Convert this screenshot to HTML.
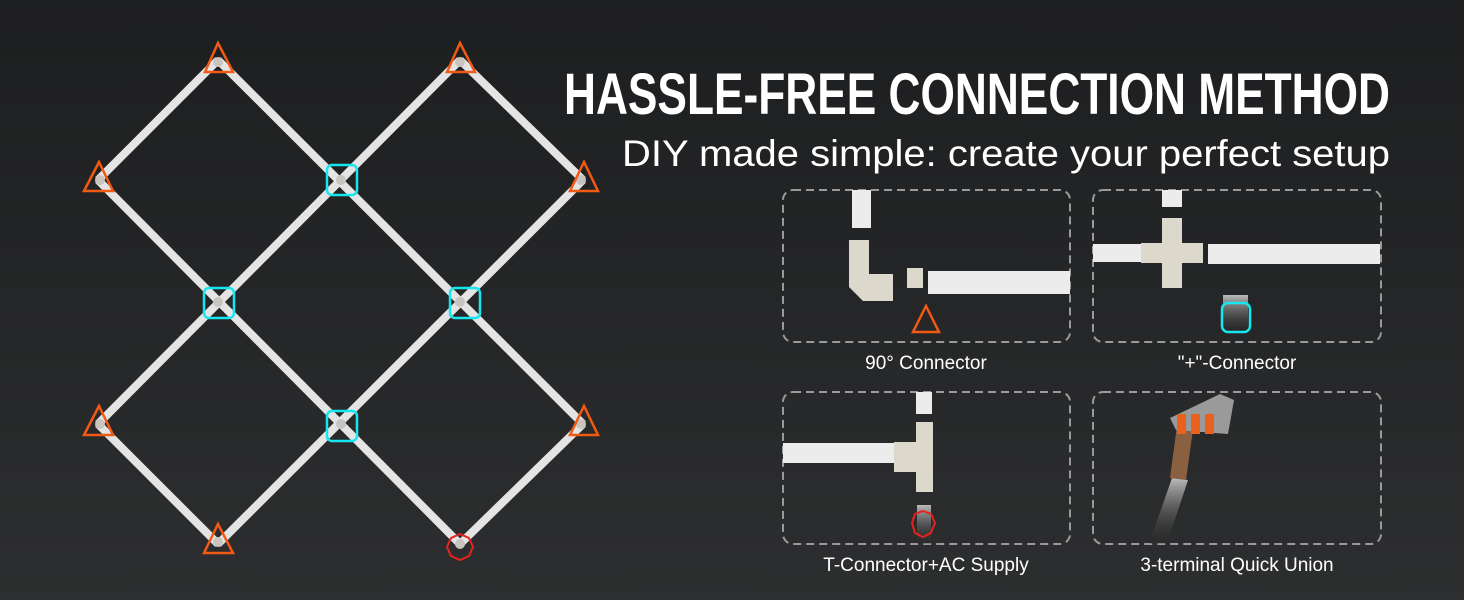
<!DOCTYPE html>
<html><head><meta charset="utf-8"><style>
html,body{margin:0;padding:0;background:#232425;}
svg{display:block}
</style></head><body>
<svg width="1464" height="600" viewBox="0 0 1464 600" xmlns="http://www.w3.org/2000/svg">
<defs>
<linearGradient id="bg" x1="0" y1="0" x2="0" y2="1">
<stop offset="0" stop-color="#1d1e1f"/><stop offset="1" stop-color="#2d2e2f"/>
</linearGradient>
<linearGradient id="fade" x1="0" y1="0" x2="0" y2="1">
<stop offset="0" stop-color="#bbb"/><stop offset="1" stop-color="#222" stop-opacity="0.2"/>
</linearGradient>
</defs>
<rect width="1464" height="600" fill="url(#bg)"/>
<g stroke="#e4e4e4" stroke-width="8" stroke-linecap="butt">
<line x1="218" y1="60" x2="583" y2="424"/>
<line x1="98" y1="180" x2="460" y2="544"/>
<line x1="460" y1="60" x2="583" y2="180"/>
<line x1="98" y1="424" x2="218" y2="544"/>
<line x1="98" y1="180" x2="218" y2="60"/>
<line x1="98" y1="424" x2="460" y2="60"/>
<line x1="218" y1="544" x2="583" y2="180"/>
<line x1="460" y1="544" x2="583" y2="424"/>
</g>
<g fill="#c8c4c0">
<circle cx="218" cy="62" r="5"/><circle cx="460" cy="62" r="5"/><circle cx="100" cy="180" r="5"/><circle cx="341" cy="180" r="5"/><circle cx="581" cy="180" r="5"/><circle cx="218" cy="302" r="5"/><circle cx="460" cy="302" r="5"/><circle cx="100" cy="424" r="5"/><circle cx="341" cy="424" r="5"/><circle cx="581" cy="424" r="5"/><circle cx="218" cy="542" r="5"/><circle cx="460" cy="544" r="5"/>
</g>
<g fill="none" stroke="#f25a14" stroke-width="2.5">
<polygon points="218,43 205,72 233,72"/>
<polygon points="460,43 447,72 475,72"/>
<polygon points="99,162 84,191 113,191"/>
<polygon points="584,162 570,191 598,191"/>
<polygon points="99,406 84,435 113,435"/>
<polygon points="584,406 570,435 598,435"/>
<polygon points="218,524 204,553 233,553"/>
<polygon points="926,306 913,332 939,332"/>
</g>
<g fill="none" stroke="#16e6f0" stroke-width="2.5">
<rect x="327" y="165" width="30" height="30" rx="5"/>
<rect x="204" y="288" width="30" height="30" rx="5"/>
<rect x="450" y="288" width="30" height="30" rx="5"/>
<rect x="327" y="411" width="30" height="30" rx="5"/>
</g>
<polygon points="460,534 469,538 473,547 469,556 460,560 451,556 447,547 451,538" fill="none" stroke="#e8221c" stroke-width="2"/>
<text x="1390" y="114" text-anchor="end" font-family="'Liberation Sans Narrow','Liberation Sans',sans-serif" font-weight="bold" font-size="58" fill="#fff" textLength="826" lengthAdjust="spacingAndGlyphs">HASSLE-FREE CONNECTION METHOD</text>
<text x="1390" y="166" text-anchor="end" font-family="'Liberation Sans',sans-serif" font-size="37" fill="#fff" textLength="768" lengthAdjust="spacingAndGlyphs">DIY made simple: create your perfect setup</text>
<g fill="none" stroke="#9a9a9a" stroke-width="2" stroke-dasharray="8,5">
<rect x="783" y="190" width="287" height="152" rx="10"/>
<rect x="1093" y="190" width="288" height="152" rx="10"/>
<rect x="783" y="392" width="287" height="152" rx="10"/>
<rect x="1093" y="392" width="288" height="152" rx="10"/>
</g>
<!-- panel 1 -->
<g fill="#ececec">
<rect x="852" y="190" width="19" height="38"/>
<path d="M849 240h20v34h24v27h-30l-14-14z" fill="#ddd8cc"/>
<rect x="907" y="268" width="16" height="20" fill="#ddd8cc"/>
<rect x="928" y="271" width="142" height="23"/>
</g>
<!-- panel 2 -->
<g fill="#ececec">
<rect x="1162" y="190" width="20" height="17"/>
<rect x="1093" y="244" width="90" height="18"/>
<rect x="1208" y="244" width="172" height="20"/>
<path d="M1162 218h20v25h21v20h-21v25h-20v-25h-21v-20h21z" fill="#ddd8cc"/>
<rect x="1223" y="295" width="25" height="38" fill="url(#fade)"/>
</g>
<rect x="1222" y="303" width="28" height="29" rx="6" fill="none" stroke="#16e6f0" stroke-width="2.5"/>
<!-- panel 3 -->
<g fill="#ececec">
<rect x="916" y="392" width="16" height="22"/>
<rect x="783" y="443" width="122" height="20"/>
<path d="M894 442h22v-20h17v70h-17v-20h-22z" fill="#ddd8cc"/>
<rect x="917" y="505" width="14" height="39" fill="url(#fade)"/>
</g>
<polygon points="923,511 931,514 935,523 931,533 923,537 915,533 912,523 915,514" fill="none" stroke="#e8221c" stroke-width="2"/>
<!-- panel 4 -->
<path d="M1172 478l16 2-21 64h-18z" fill="url(#fade)"/>
<path d="M1170 478l8-60 16 4-8 58z" fill="#8a6040"/>
<path d="M1170 418l50-24 14 6-6 34-52 -4z" fill="#9a9a9a"/>
<g fill="#e8621e"><rect x="1177" y="414" width="9" height="20"/><rect x="1191" y="414" width="9" height="20"/><rect x="1205" y="414" width="9" height="20"/></g>
<g font-family="'Liberation Sans',sans-serif" font-size="19" fill="#fff" text-anchor="middle">
<text x="926" y="369">90° Connector</text>
<text x="1237" y="369">"+"-Connector</text>
<text x="926" y="571">T-Connector+AC Supply</text>
<text x="1237" y="571">3-terminal Quick Union</text>
</g>
</svg>
</body></html>
